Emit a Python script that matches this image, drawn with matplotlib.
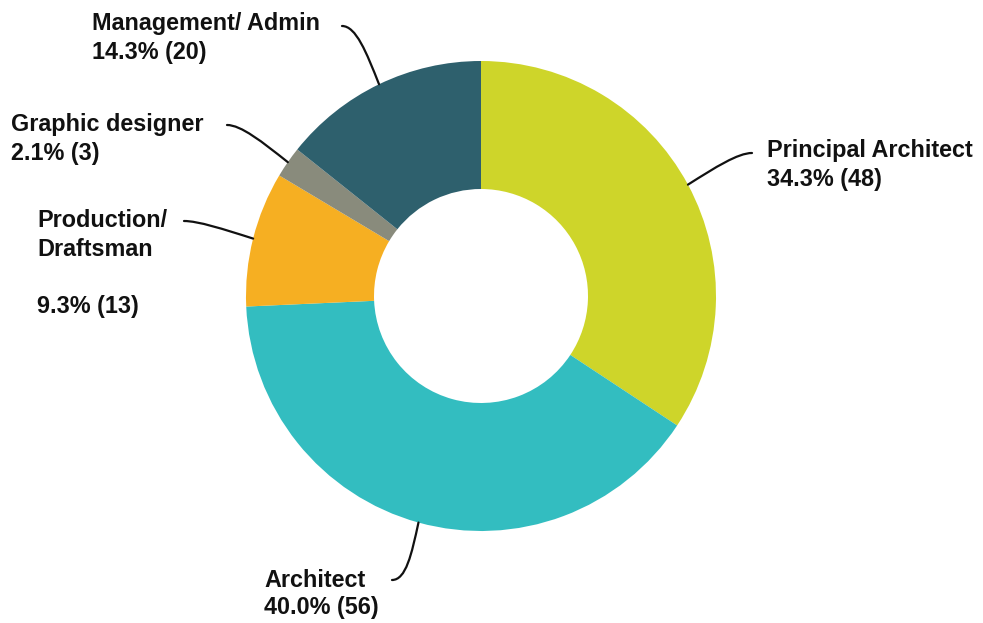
import numpy as np
import matplotlib
matplotlib.use("Agg")
import matplotlib.pyplot as plt
from matplotlib.path import Path
from matplotlib.patches import PathPatch

categories = ["Principal Architect", "Architect", "Production/\nDraftsman", "Graphic designer", "Management/ Admin"]
counts = [48, 56, 13, 3, 20]
colors = ["#CED52A", "#33BDC0", "#F6AF22", "#898B7C", "#2E606D"]

W, H = 983, 623
CX, CY, R, R_IN = 481, 296, 235, 107

fig = plt.figure(figsize=(W / 100, H / 100), dpi=100)
ax = fig.add_axes([0, 0, 1, 1])
wedges, _ = ax.pie(counts, colors=colors, startangle=-90, counterclock=True,
                   center=(CX, CY), radius=R,
                   wedgeprops=dict(width=R - R_IN, linewidth=0))
ax.set_aspect("auto")
ax.set_xlim(0, W)
ax.set_ylim(H, 0)
ax.axis("off")

total = sum(counts)
# label layout: text x, baselines, leader end point, end direction
layout = [
    dict(x=767, ys=[157, 186], end=(752, 153), d=-1),
    dict(x=264, ys=[587, 614], end=(392, 580), d=1),
    dict(x=37, ys=[227, 256, 313], end=(184, 221), d=1),
    dict(x=11, ys=[131, 160], end=(227, 125), d=1),
    dict(x=92, ys=[30, 59], end=(342, 26), d=1),
]

fs = 16.8
for w, cat, n, lay in zip(wedges, categories, counts, layout):
    pct = f"{n / total * 100:.1f}% ({n})"
    textlines = cat.split("\n") + [pct]
    for t, y in zip(textlines, lay["ys"]):
        ax.text(lay["x"], y, t, fontsize=fs, fontweight="bold", color="#111111",
                family=["Liberation Sans", "DejaVu Sans"], va="baseline", ha="left")
    ang = np.deg2rad((w.theta1 + w.theta2) / 2)
    p0 = np.array([CX + R * np.cos(ang), CY + R * np.sin(ang)])
    p3 = np.array(lay["end"], dtype=float)
    p2 = p3 + np.array([lay["d"] * 14, 0])
    p1 = p0 + 0.55 * (p2 - p0)
    path = Path([p0, p1, p2, p3], [Path.MOVETO, Path.CURVE4, Path.CURVE4, Path.CURVE4])
    ax.add_patch(PathPatch(path, fill=False, lw=1.6, edgecolor="#111111", capstyle="round"))

fig.savefig("out.png", dpi=100, facecolor="white")
